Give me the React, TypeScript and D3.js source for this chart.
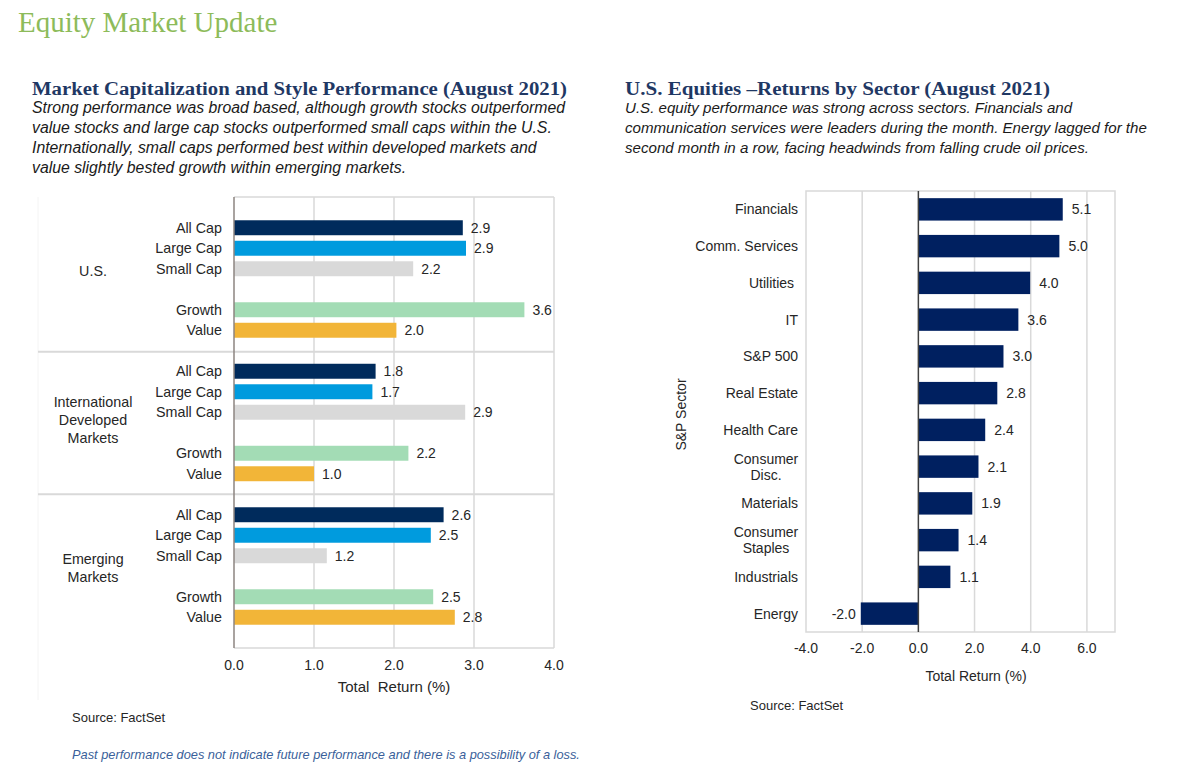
import React from "react";
import * as d3 from "d3";

// ---------- Data ----------
const styleNames = ["All Cap", "Large Cap", "Small Cap", "Growth", "Value"];
const styleColors = ["#002b5c", "#009bde", "#d9d9d9", "#a3dcb5", "#f2b538"];
const regionLabels = [["U.S."], ["International", "Developed", "Markets"], ["Emerging", "Markets"]];
const usValues = [2.86, 2.9, 2.24, 3.63, 2.03];
const intlValues = [1.77, 1.73, 2.89, 2.18, 1.0];
const emValues = [2.62, 2.46, 1.16, 2.49, 2.76];
const leftTicks = [0, 1, 2, 3, 4];

const sectors = [
  "Financials",
  "Comm. Services",
  "Utilities ",
  "IT",
  "S&P 500",
  "Real Estate",
  "Health Care",
  "Consumer\nDisc.",
  "Materials",
  "Consumer\nStaples",
  "Industrials",
  "Energy",
];
const sectorValues = [5.14, 5.02, 3.98, 3.56, 3.03, 2.81, 2.38, 2.14, 1.92, 1.43, 1.14, -2.05];
const rightTicks = [-4, -2, 0, 2, 4, 6];

const leftSubtitle = [
  "Strong performance was broad based, although growth stocks outperformed",
  "value stocks and large cap stocks outperformed small caps within the U.S.",
  "Internationally, small caps performed best within developed markets and",
  "value slightly bested growth within emerging markets.",
];
const rightSubtitle = [
  "U.S. equity performance was strong across sectors. Financials and",
  "communication services were leaders during the month. Energy lagged for the",
  "second month in a row, facing headwinds from falling crude oil prices.",
];

const SANS = "'Liberation Sans', Arial, Helvetica, sans-serif";
const SERIF = "'Liberation Serif', 'Times New Roman', serif";
const TXT = "#262626";
const GRID = "#d9d9d9";

export default function App() {
  // ----- Left chart -----
  const regionValues = [usValues, intlValues, emValues];
  const nSlots = 22;
  const slotKeys = d3.range(nSlots).map((i) => "s" + i);
  const lTop = 197, lBottom = 648, lLeft = 234, lRight = 554;
  const xL = d3.scaleLinear().domain([0, 4]).range([lLeft, lRight]);
  const yL = d3
    .scaleBand<string>()
    .domain(slotKeys)
    .range([lTop, lBottom])
    .paddingInner(0.27)
    .paddingOuter(0.135);
  const slotOf = (g: number, i: number) => 1 + 7 * g + (i < 3 ? i : i + 1);
  const step = yL.step();
  const slotEdge = (s: number) => lTop + s * step;
  const dividers = [7.55, 14.5];
  const regionSpans = [
    [0, 7.55],
    [7.55, 14.5],
    [14.5, 22],
  ];

  // ----- Right chart -----
  const rTop = 191, rBottom = 632, rLeft = 806, rRight = 1115;
  const xR = d3.scaleLinear().domain([-4, 7]).range([rLeft, rRight]);
  const yR = d3
    .scaleBand<string>()
    .domain(sectors)
    .range([rTop, rBottom])
    .paddingInner(0.39)
    .paddingOuter(0.195);

  return (
    <svg
      width={1200}
      height={771}
      style={{ position: "absolute", left: 0, top: 0, display: "block", background: "#fff" }}
    >
      <rect x={0} y={0} width={1200} height={771} fill="#fff" />
      {/* Title */}
      <text x={18} y={32} fontFamily={SERIF} fontSize={29} fill="#8dbb5a">
        Equity Market Update
      </text>

      {/* Left heading */}
      <text
        x={32}
        y={95}
        fontFamily={SERIF}
        fontWeight="bold"
        fontSize={18}
        fill="#1f3864"
        textLength={535}
        lengthAdjust="spacingAndGlyphs"
      >
        Market Capitalization and Style Performance (August 2021)
      </text>
      {leftSubtitle.map((t, i) => (
        <text key={i} x={32} y={113 + i * 20} fontFamily={SANS} fontStyle="italic" fontSize={15.8} fill="#1a1a1a">
          {t}
        </text>
      ))}

      {/* Right heading */}
      <text
        x={625}
        y={95}
        fontFamily={SERIF}
        fontWeight="bold"
        fontSize={18}
        fill="#1f3864"
        textLength={425}
        lengthAdjust="spacingAndGlyphs"
      >
        U.S. Equities –Returns by Sector (August 2021)
      </text>
      {rightSubtitle.map((t, i) => (
        <text key={i} x={625} y={113 + i * 20} fontFamily={SANS} fontStyle="italic" fontSize={15.1} fill="#1a1a1a">
          {t}
        </text>
      ))}

      {/* ================= Left chart ================= */}
      <g>
        <line x1={38} x2={38} y1={lTop} y2={700} stroke="#f4f4f4" strokeWidth={1} />
        {leftTicks.slice(1).map((t) => (
          <line key={t} x1={xL(t)} x2={xL(t)} y1={lTop} y2={lBottom} stroke={GRID} strokeWidth={1.5} />
        ))}
        <line x1={lLeft} x2={lRight} y1={lTop} y2={lTop} stroke={GRID} strokeWidth={1.5} />
        <line x1={lLeft} x2={lRight} y1={lBottom} y2={lBottom} stroke={GRID} strokeWidth={1.5} />
        {dividers.map((d, i) => (
          <line key={i} x1={38} x2={lRight} y1={slotEdge(d)} y2={slotEdge(d)} stroke={GRID} strokeWidth={2} />
        ))}
        {regionValues.map((vals, g) =>
          vals.map((v, i) => {
            const key = slotKeys[slotOf(g, i)];
            const y = yL(key)!;
            const h = yL.bandwidth();
            return (
              <g key={g + "-" + i}>
                <rect x={xL(0)} y={y} width={xL(v) - xL(0)} height={h} fill={styleColors[i]} />
                <text
                  x={xL(v) + 8}
                  y={y + h / 2}
                  dy="0.35em"
                  fontFamily={SANS}
                  fontSize={14}
                  fill={TXT}
                >
                  {v.toFixed(1)}
                </text>
                <text
                  x={222}
                  y={y + h / 2}
                  dy="0.35em"
                  textAnchor="end"
                  fontFamily={SANS}
                  fontSize={14.3}
                  fill={TXT}
                >
                  {styleNames[i]}
                </text>
              </g>
            );
          })
        )}
        {regionLabels.map((lines, g) => {
          const cy = (slotEdge(regionSpans[g][0]) + slotEdge(regionSpans[g][1])) / 2 - 3;
          const lh = 18;
          return lines.map((ln, j) => (
            <text
              key={g + "-" + j}
              x={93}
              y={cy + (j - (lines.length - 1) / 2) * lh}
              dy="0.35em"
              textAnchor="middle"
              fontFamily={SANS}
              fontSize={14.3}
              fill={TXT}
            >
              {ln}
            </text>
          ));
        })}
        <line x1={xL(0)} x2={xL(0)} y1={lTop} y2={lBottom} stroke="#8c8580" strokeWidth={1.5} />
        {leftTicks.map((t) => (
          <text
            key={t}
            x={xL(t)}
            y={665}
            dy="0.35em"
            textAnchor="middle"
            fontFamily={SANS}
            fontSize={14}
            fill={TXT}
          >
            {t.toFixed(1)}
          </text>
        ))}
        <text
          x={(lLeft + lRight) / 2}
          y={687}
          dy="0.35em"
          textAnchor="middle"
          fontFamily={SANS}
          fontSize={15}
          fill={TXT}
          style={{ whiteSpace: "pre" }}
        >
          {"Total  Return (%)"}
        </text>
        <text x={72} y={717} dy="0.35em" fontFamily={SANS} fontSize={13} fill={TXT}>
          Source: FactSet
        </text>
      </g>

      {/* ================= Right chart ================= */}
      <g>
        <rect
          x={rLeft}
          y={rTop}
          width={rRight - rLeft}
          height={rBottom - rTop}
          fill="none"
          stroke={GRID}
          strokeWidth={1.5}
        />
        {rightTicks
          .filter((t) => t !== 0 && t !== -4)
          .map((t) => (
            <line key={t} x1={xR(t)} x2={xR(t)} y1={rTop} y2={rBottom} stroke={GRID} strokeWidth={1.5} />
          ))}
        {sectors.map((s, i) => {
          const v = sectorValues[i];
          const y = yR(s)!;
          const h = yR.bandwidth();
          const x0 = Math.min(xR(0), xR(v));
          const w = Math.abs(xR(v) - xR(0));
          const lines = s.split("\n");
          return (
            <g key={s}>
              <rect x={x0} y={y} width={w} height={h} fill="#002060" />
              <text
                x={v >= 0 ? xR(v) + 9 : xR(v) - 5}
                y={y + h / 2}
                dy="0.35em"
                textAnchor={v >= 0 ? "start" : "end"}
                fontFamily={SANS}
                fontSize={14}
                fill={TXT}
              >
                {v.toFixed(1)}
              </text>
              {lines.length === 1 ? (
                <text
                  x={798}
                  y={y + h / 2}
                  dy="0.35em"
                  textAnchor="end"
                  fontFamily={SANS}
                  fontSize={14}
                  fill={TXT}
                  style={{ whiteSpace: "pre" }}
                >
                  {s}
                </text>
              ) : (
                lines.map((ln, j) => (
                  <text
                    key={j}
                    x={766}
                    y={y + h / 2 + (j - (lines.length - 1) / 2) * 16}
                    dy="0.35em"
                    textAnchor="middle"
                    fontFamily={SANS}
                    fontSize={14}
                    fill={TXT}
                  >
                    {ln}
                  </text>
                ))
              )}
            </g>
          );
        })}
        <line x1={xR(0)} x2={xR(0)} y1={rTop} y2={rBottom} stroke="#404040" strokeWidth={1.5} />
        {rightTicks.map((t) => (
          <text
            key={t}
            x={xR(t)}
            y={648}
            dy="0.35em"
            textAnchor="middle"
            fontFamily={SANS}
            fontSize={14}
            fill={TXT}
          >
            {t.toFixed(1)}
          </text>
        ))}
        <text x={976} y={676} dy="0.35em" textAnchor="middle" fontFamily={SANS} fontSize={14} fill={TXT}>
          Total Return (%)
        </text>
        <text
          transform={`translate(681,${(rTop + rBottom) / 2 + 3}) rotate(-90)`}
          dy="0.35em"
          textAnchor="middle"
          fontFamily={SANS}
          fontSize={14}
          fill={TXT}
        >
          S&amp;P Sector
        </text>
        <text x={750} y={705} dy="0.35em" fontFamily={SANS} fontSize={13} fill={TXT}>
          Source: FactSet
        </text>
      </g>

      {/* Footer */}
      <text x={72} y={755} dy="0.35em" fontFamily={SANS} fontStyle="italic" fontSize={12.8} fill="#3a5f9a">
        Past performance does not indicate future performance and there is a possibility of a loss.
      </text>
    </svg>
  );
}
